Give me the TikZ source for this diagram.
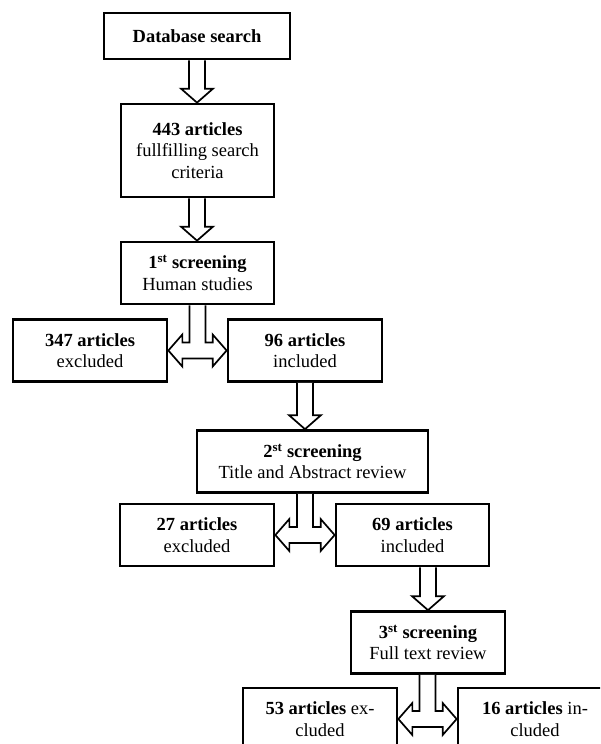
\documentclass[tikz,border=0pt]{standalone}
\usepackage{fontspec}
\setmainfont{Liberation Serif}
\usepackage{tikz}
\usetikzlibrary{calc}

\tikzset{
  box/.style={draw, line width=2.7pt, inner sep=0pt, align=center,
    minimum width=154pt, minimum height=62pt,
    font=\fontsize{18.5}{21.5}\selectfont},
  arrowline/.style={draw, line width=1.7pt, fill=white}
}

\newcommand{\flowarrow}[3]{%
  \draw[arrowline] let \p1=(#1.south), \p2=(#2.north), \p3=(#3) in
    (\x3-8pt,\y1) -- (\x3-8pt,\y2+14pt) -- (\x3-16pt,\y2+14pt) -- (\x3,\y2)
    -- (\x3+16pt,\y2+14pt) -- (\x3+8pt,\y2+14pt) -- (\x3+8pt,\y1);
}

\newcommand{\splitarrow}[3]{%
  \draw[arrowline] let \p1=(#1.south), \p2=(#2.east), \p3=(#3.west),
    \p4=($(#2.east)!0.5!(#3.west)$) in
    (\x4-8pt,\y1) -- (\x4-8pt,\y2+8pt) -- (\x2+14pt,\y2+8pt) -- (\x2+14pt,\y2+16pt)
    -- (\x2,\y2) -- (\x2+14pt,\y2-16pt) -- (\x2+14pt,\y2-8pt) -- (\x3-14pt,\y2-8pt)
    -- (\x3-14pt,\y2-16pt) -- (\x3,\y2) -- (\x3-14pt,\y2+16pt) -- (\x3-14pt,\y2+8pt)
    -- (\x4+8pt,\y2+8pt) -- (\x4+8pt,\y1);
}

\begin{document}
\begin{tikzpicture}[x=1pt, y=-1pt]
\useasboundingbox (0,0) rectangle (600,744);
\clip (0,0) rectangle (600,744);

\node[box, minimum width=186pt, minimum height=46pt] (search) at (197,36) {\textbf{Database search}};
\node[box, minimum width=153pt, minimum height=93pt] (found) at (197.5,150.5) {\textbf{443 articles}\\fullfilling search\\criteria};
\node[box, minimum width=153pt] (first) at (197.5,273) {\textbf{1\textsuperscript{st} screening}\\Human studies};
\node[box] (excla) at (90,350.5) {\textbf{347 articles}\\excluded};
\node[box] (incla) at (305,350.5) {\textbf{96 articles}\\included};
\node[box, minimum width=231pt] (second) at (312.5,461.5) {\textbf{2\textsuperscript{st} screening}\\Title and Abstract review};
\node[box] (exclb) at (197,535) {\textbf{27 articles}\\excluded};
\node[box, minimum width=153pt] (inclb) at (412.5,535) {\textbf{69 articles}\\included};
\node[box] (third) at (428,642.5) {\textbf{3\textsuperscript{st} screening}\\Full text review};
\node[box] (exclc) at (320,719) {\textbf{53 articles} ex-\\cluded};
\node[box] (inclc) at (535,719) {\textbf{16 articles} in-\\cluded};

\flowarrow{search}{found}{search}
\flowarrow{found}{first}{search}
\splitarrow{first}{excla}{incla}
\flowarrow{incla}{second}{incla}
\splitarrow{second}{exclb}{inclb}
\flowarrow{inclb}{third}{third}
\splitarrow{third}{exclc}{inclc}
\end{tikzpicture}
\end{document}
